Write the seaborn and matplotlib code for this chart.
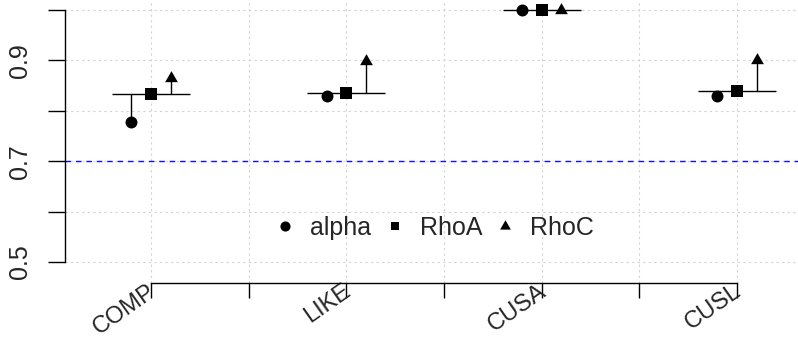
import numpy as np
import pandas as pd
import matplotlib
matplotlib.use("Agg")
import matplotlib.pyplot as plt
import matplotlib.transforms as mtransforms
from matplotlib.path import Path
from matplotlib.lines import Line2D
import seaborn as sns

# Reliability estimates per construct
constructs = ["COMP", "LIKE", "CUSA", "CUSL"]
alpha = [0.778, 0.829, 1.000, 0.830]
rho_a = [0.833, 0.836, 1.000, 0.840]
rho_c = [0.865, 0.899, 1.000, 0.900]
threshold = 0.7

y_ticks = [0.5, 0.6, 0.7, 0.8, 0.9, 1.0]
y_tick_labels = ["0.5", "", "0.7", "", "0.9", ""]
legend_labels = ["alpha", "RhoA", "RhoC"]

sns.set_style("white")
plt.rcParams["font.family"] = ["Liberation Sans", "DejaVu Sans"]

pos = np.arange(1, len(constructs) + 1)
offsets = {"alpha": -0.1, "RhoA": 0.0, "RhoC": 0.1}
df = pd.DataFrame({
    "construct": np.repeat(constructs, 3),
    "pos": np.repeat(pos, 3).astype(float),
    "measure": legend_labels * len(constructs),
    "value": np.ravel(np.column_stack([alpha, rho_a, rho_c])),
})
df["x"] = df["pos"] + df["measure"].map(offsets)
df["base"] = np.repeat(rho_a, 3)

# filled triangle with its reference point at the centroid
tri = Path([(0, 1.555), (1.347, -0.778), (-1.347, -0.778), (0, 1.555)],
           [Path.MOVETO, Path.LINETO, Path.LINETO, Path.CLOSEPOLY])
markers = {"alpha": "o", "RhoA": "s", "RhoC": tri}
sizes = {"alpha": 8.6, "RhoA": 8.6, "RhoC": 10.6}
legend_sizes = {"alpha": 7.3, "RhoA": 6.2, "RhoC": 9.0}

W, H = 798, 347
fig = plt.figure(figsize=(W / 100, H / 100), dpi=100)
left, bottom = 65, 283
ax = fig.add_axes([left / W, (H - bottom) / H, 1 - left / W, bottom / H])

px_x = (737 - 151) / 3.0
px_y = (262 - 10) / 0.5
ax.set_xlim(1 - (151 - left) / px_x, 1 + (W - 151) / px_x)
ax.set_ylim(0.5 - (bottom - 262) / px_y, 1.0 + 10 / px_y)

# dotted grid
grid_kw = dict(color="#d3d3d3", lw=0.8, ls=(0, (2, 3)), zorder=0)
for gx in np.arange(1.0, 4.01, 0.5):
    ax.axvline(gx, **grid_kw)
for gy in y_ticks:
    ax.axhline(gy, **grid_kw)

ax.axhline(threshold, color="#1010ff", lw=1.0, ls=(0, (4, 3.5)), zorder=1)

# reference segment at RhoA and stems to the other estimates
ax.hlines(rho_a, pos - 0.2, pos + 0.2, color="black", lw=1.0, zorder=2)
stems = df[df["measure"] != "RhoA"]
ax.vlines(stems["x"], stems["base"], stems["value"], color="black", lw=1.0, zorder=2)

for m in legend_labels:
    sub = df[df["measure"] == m]
    sns.scatterplot(data=sub, x="x", y="value", marker=markers[m],
                    s=sizes[m] ** 2, color="black", linewidth=0, ax=ax,
                    zorder=3, legend=False)

ax.set_xlabel("")
ax.set_ylabel("")

# axes drawn only over the tick range
for s in ["top", "right"]:
    ax.spines[s].set_visible(False)
ax.spines["left"].set_bounds(0.5, 1.0)
ax.spines["bottom"].set_bounds(1, 4)
for s in ["left", "bottom"]:
    ax.spines[s].set_color("black")
    ax.spines[s].set_linewidth(1.0)

ax.set_yticks(y_ticks)
ax.set_yticklabels(y_tick_labels)
ax.set_xticks(pos)
ax.set_xticks(np.arange(1.5, 4, 1.0), minor=True)
ax.set_xticklabels(constructs)
ax.tick_params(axis="y", which="both", direction="out", length=12, width=1.0,
               color="black", labelsize=18, pad=12, left=True)
ax.tick_params(axis="x", which="both", direction="out", length=11, width=1.0,
               color="black", labelsize=17, pad=-13, bottom=True)
for lab in ax.get_yticklabels():
    lab.set_rotation(90)
    lab.set_va("center")
    lab.set_ha("right")
shift = mtransforms.ScaledTranslation(-4 / 100, 0, fig.dpi_scale_trans)
for lab in ax.get_xticklabels():
    lab.set_rotation(35)
    lab.set_ha("right")
    lab.set_va("top")
    lab.set_rotation_mode("anchor")
    lab.set_transform(lab.get_transform() + shift)

handles = [Line2D([], [], ls="none", marker=markers[m], color="black",
                  markersize=legend_sizes[m], markeredgewidth=0)
           for m in legend_labels]
ax.legend(handles, legend_labels, ncol=3, frameon=False, loc="center",
          bbox_to_anchor=(2.446, 0.568), bbox_transform=ax.transData,
          fontsize=18, handlelength=1.0, handletextpad=0.5, columnspacing=0.42,
          borderpad=0, borderaxespad=0)

fig.savefig("out.png", dpi=100)
